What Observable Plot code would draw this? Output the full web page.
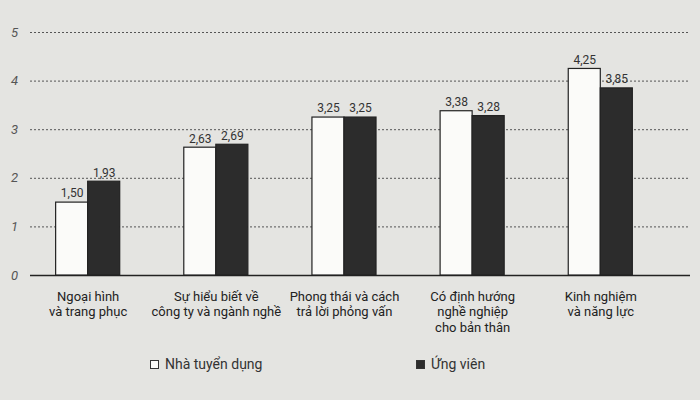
<!DOCTYPE html>
<html>
<head>
<meta charset="utf-8">
<script src="https://cdn.jsdelivr.net/npm/d3@7"></script>
<script src="https://cdn.jsdelivr.net/npm/@observablehq/plot@0.6"></script>
<style>
  html, body { margin: 0; padding: 0; background: #e4e4e1; }
  body { width: 700px; height: 400px; overflow: hidden; font-family: "Roboto", "Noto Sans", sans-serif; }
  #chart svg { display: block; background: transparent; }
  #legend { position: relative; height: 58px; color: #333; font-size: 14px; }
  #legend .item { position: absolute; display: flex; align-items: center; gap: 6px; }
  #legend .sw { width: 9px; height: 9px; box-sizing: border-box; border: 1.5px solid #333; }
</style>
</head>
<body>
<div id="chart"></div>
<div id="legend"></div>
<script>
// ---- Data ----
const categories = [
  "Ngoại hình\nvà trang phục",
  "Sự hiểu biết về\ncông ty và ngành nghề",
  "Phong thái và cách\ntrả lời phỏng vấn",
  "Có định hướng\nnghề nghiệp\ncho bản thân",
  "Kinh nghiệm\nvà năng lực"
];
const seriesNames = ["Nhà tuyển dụng", "Ứng viên"];
const employer  = [1.50, 2.63, 3.25, 3.38, 4.25];
const candidate = [1.93, 2.69, 3.25, 3.28, 3.85];
const yTicks = [0, 1, 2, 3, 4, 5];
const gridTicks = [1, 2, 3, 4, 5];

// ---- Build table ----
const barW = 0.25;
const rows = categories.flatMap((c, i) => [
  { cat: c, i, series: seriesNames[0], value: employer[i],  x1: i - barW, x2: i },
  { cat: c, i, series: seriesNames[1], value: candidate[i], x1: i,        x2: i + barW }
]);
const colors = ["#fbfbf9", "#2c2c2c"];
const fmt = v => v.toFixed(2).replace(".", ",");

const chart = Plot.plot({
  width: 700,
  height: 342,
  marginTop: 32,
  marginBottom: 67,
  marginLeft: 30,
  marginRight: 10,
  style: { fontFamily: '"Roboto", sans-serif', background: "transparent", overflow: "visible" },
  x: { domain: [-0.45, 4.7], axis: null },
  y: { domain: [0, 5], axis: null },
  color: { domain: seriesNames, range: colors },
  marks: [
    Plot.ruleY(gridTicks, { stroke: "#555", strokeWidth: 1, strokeDasharray: "2,2" }),
    Plot.ruleY([0], { stroke: "#222", strokeWidth: 1.5 }),
    Plot.text(yTicks, { y: d => d, text: d => String(d), frameAnchor: "left", dx: -16, textAnchor: "middle", fontStyle: "italic", fontSize: 13, fill: "#555" }),
    Plot.rectY(rows, { x1: "x1", x2: "x2", y: "value", fill: "series", stroke: "#222", strokeWidth: 1.2 }),
    Plot.text(rows, { x: d => (d.x1 + d.x2) / 2, y: "value", text: d => fmt(d.value), dy: -9, fontSize: 12, fill: "#333" }),
    Plot.text(categories, { x: (d, i) => i, y: 0, text: d => d, lineAnchor: "top", dy: 14, fontSize: 13, fill: "#222", lineHeight: 1.2 })
  ]
});
document.getElementById("chart").appendChild(chart);

// ---- Legend ----
const legend = document.getElementById("legend");
const legendX = [150, 416];
seriesNames.forEach((name, k) => {
  const item = document.createElement("div");
  item.className = "item";
  item.style.left = legendX[k] + "px";
  item.style.top = "14px";
  const sw = document.createElement("span");
  sw.className = "sw";
  sw.style.background = colors[k];
  const t = document.createElement("span");
  t.textContent = name;
  item.appendChild(sw);
  item.appendChild(t);
  legend.appendChild(item);
});
</script>
</body>
</html>
